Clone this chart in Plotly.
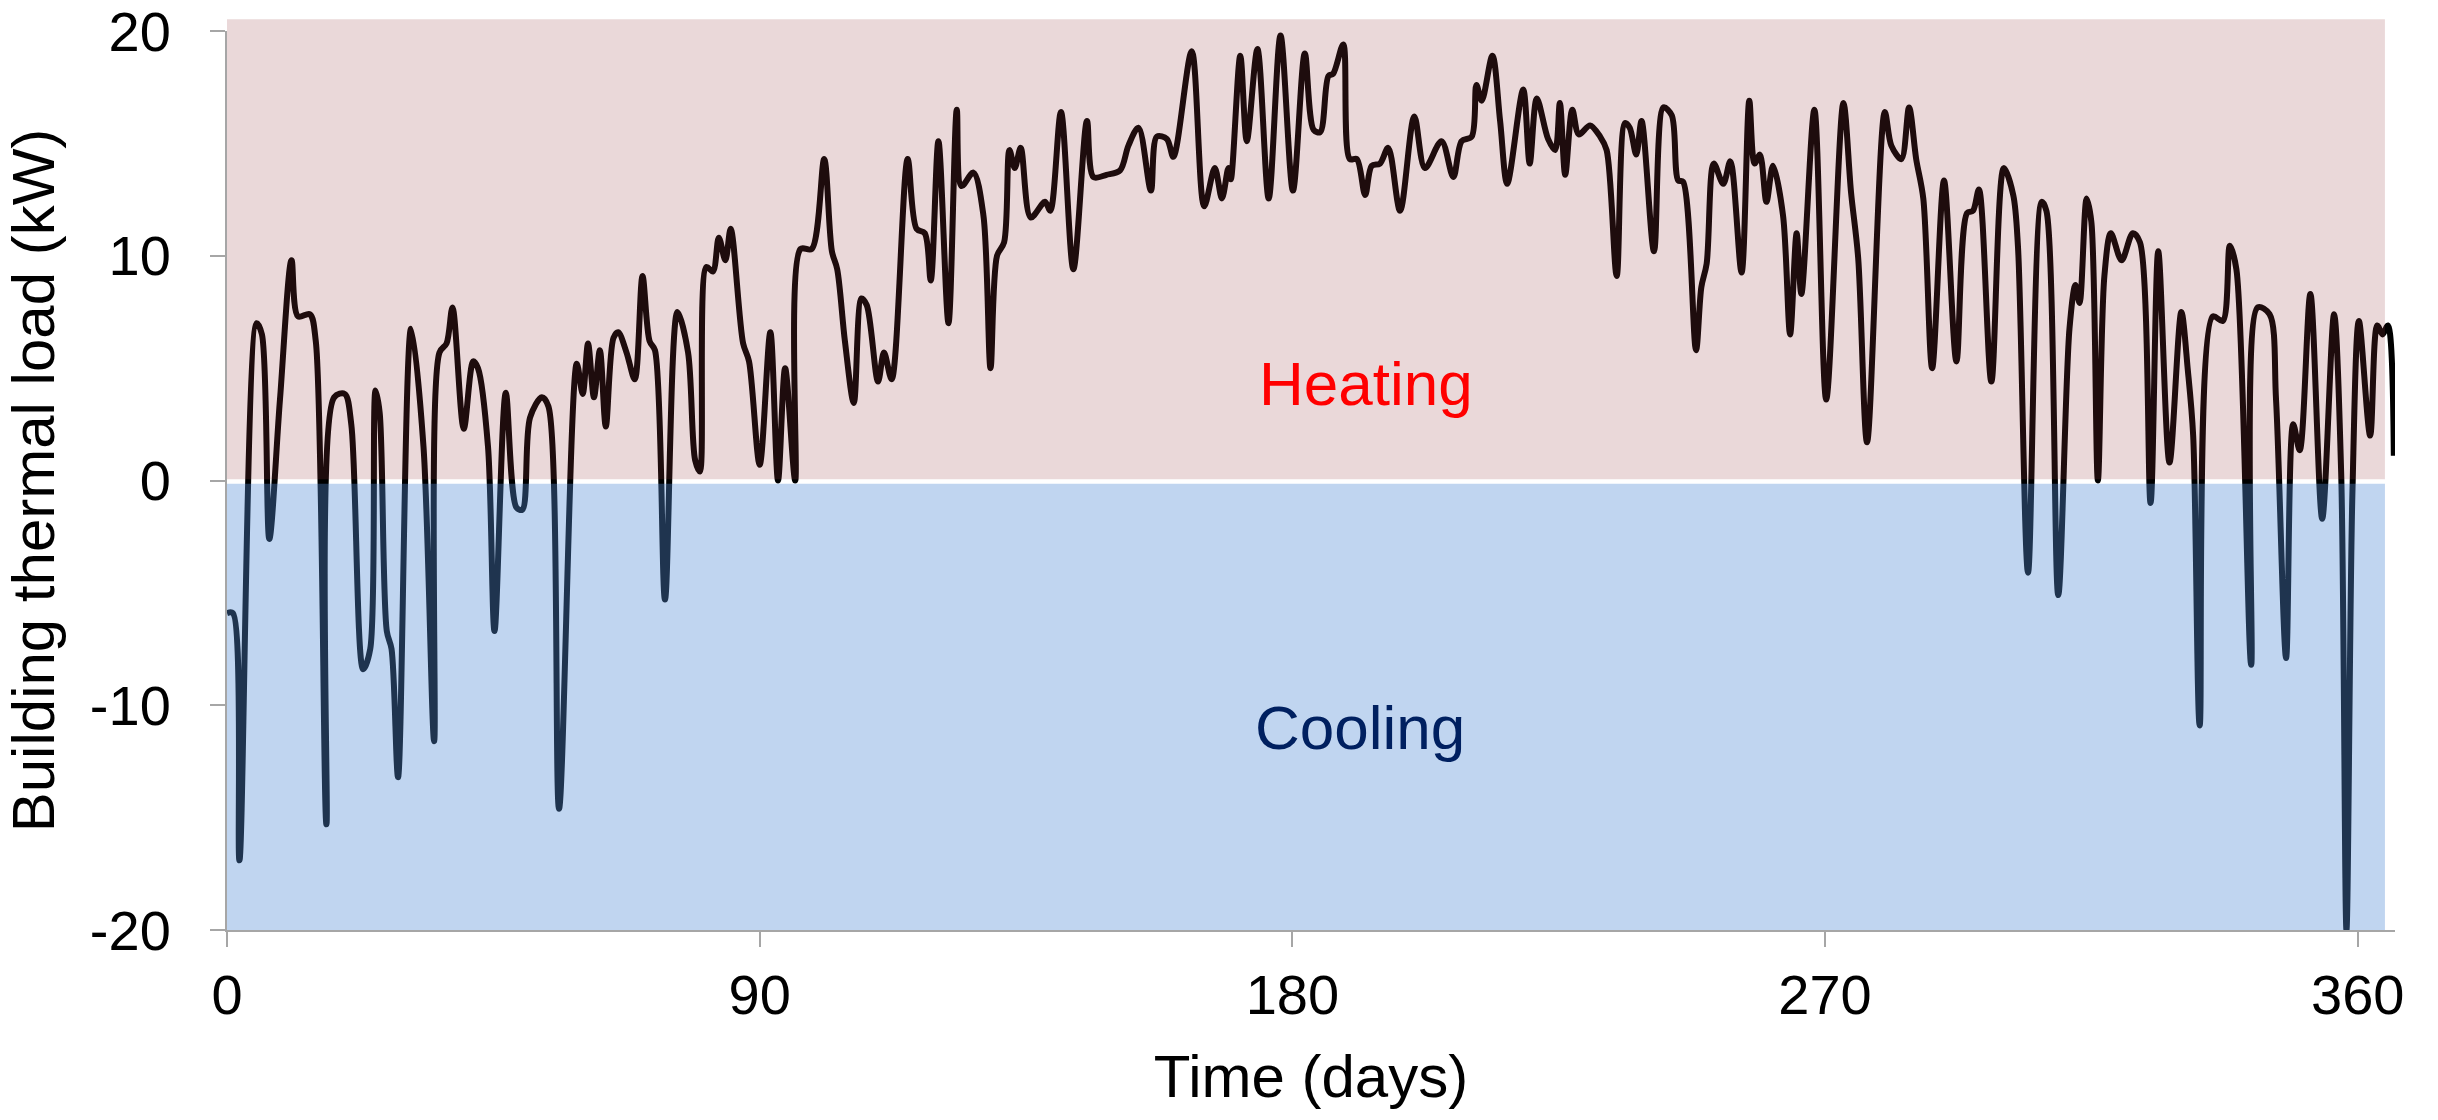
import plotly.graph_objects as go

# Data
days = [0, 1, 2.1, 5.0, 5.9, 7.15, 8.95, 10.9, 12.0, 14.0, 15.0, 16.8, 18.1, 19.9, 21.0,
        23.0, 24.2, 25.1, 25.8, 27.0, 27.8, 28.9, 31.1, 33.2, 35.0, 35.9, 37.1, 38.1, 40.0,
        41.6, 42.4, 44.1, 45.2, 47.1, 48.9, 49.9, 51.2, 53.2, 54.3, 56.1, 59.1, 60.1, 61.0,
        62.0, 63.0, 64.0, 65.3, 66.1, 67.5, 68.9, 70.2, 71.4, 72.3, 74.0, 76.1, 77.9, 79.1,
        79.9, 81.0, 82.1, 83.1, 84.2, 85.1, 87.2, 88.2, 90.0, 91.8, 93.1, 94.3, 96.0, 96.9,
        98.8, 100.9, 102.2, 103.1, 104.4, 105.9, 107.2, 108.1, 110.0, 111.0, 112.3, 115.0,
        116.5, 117.9, 118.9, 120.2, 121.9, 123.3, 124.1, 126.1, 127.8, 129.0, 130.1, 131.3,
        132.2, 133.1, 134.1, 135.8, 138.2, 139.1, 140.9, 143.0, 145.3, 146.4, 148.6, 150.9,
        152.3, 154.0, 156.1, 157.1, 158.8, 159.9, 163.0, 165.1, 166.9, 168.1, 169.2, 169.6,
        171.2, 172.3, 174.1, 176.0, 178.0, 180.1, 182.1, 183.6, 184.7, 186.1, 186.9, 188.6,
        189.7, 190.9, 192.3, 193.4, 194.8, 196.2, 198.2, 200.6, 202.4, 205.2, 207.2, 208.6,
        210.3, 211.1, 212.0, 213.8, 215.1, 216.3, 219.0, 220.1, 221.3, 223.2, 224.4, 225.2,
        226.1, 227.3, 228.4, 230.3, 232.0, 233.1, 234.8, 236.2, 237.0, 238.1, 239.0, 241.1,
        242.7, 244.1, 245.2, 246.0, 248.2, 249.1, 250.0, 251.2, 252.8, 254.0, 255.9, 257.2,
        258.1, 259.0, 260.1, 261.2, 262.9, 264.1, 265.2, 266.0, 268.2, 270.2, 273.1, 274.4,
        275.6, 277.1, 280.1, 281.2, 282.9, 284.2, 285.4, 286.6, 288.1, 290.1, 292.2, 294.0,
        295.0, 296.0, 298.1, 300.2, 301.8, 302.6, 304.3, 306.6, 307.4, 309.4, 311.3, 312.3,
        313.0, 314.2, 315.0, 316.1, 317.2, 318.3, 320.1, 322.0, 323.2, 325.0, 326.3, 328.2,
        330.2, 331.3, 332.2, 333.3, 335.5, 337.2, 338.4, 339.5, 342.0, 343.1, 345.1, 346.2,
        347.9, 349.1, 350.2, 352.0, 354.0, 356.0, 357.2, 358.1, 359.1, 360.2, 362.1, 363.3,
        364.2, 365.1, 366.1]

load_kw = [-5.9, -5.9, -16.9, 7.0, 6.5, -2.6, 3.6, 9.8, 7.3, 7.4, 6.2, -15.3, 3.7, 3.85, 2.5,
           -8.4, -7.5, 4.0, 3.0, -6.7, -7.5, -13.2, 6.75, 1.5, -11.6, 5.7, 6.1, 7.7, 2.3,
           5.3, 5.0, 1.5, -6.7, 3.9, -1.2, -1.3, 2.8, 3.7, 3.3, -14.6, 5.2, 3.85, 6.1,
           3.7, 5.8, 2.4, 6.35, 6.6, 5.7, 4.5, 9.1, 6.2, 5.8, -5.3, 7.5, 5.7, 0.9,
           0.4, 9.5, 9.3, 10.8, 9.8, 11.2, 6.1, 5.3, 0.7, 6.6, 0.0, 5.0, 0.0, 10.3,
           10.3, 14.3, 10.2, 9.4, 6.2, 3.45, 8.1, 7.8, 4.4, 5.7, 4.5, 14.3,
           11.2, 11.0, 8.9, 15.1, 7.0, 16.5, 13.1, 13.7, 11.8, 5.0, 10.0, 10.6,
           14.7, 13.9, 14.8, 11.7, 12.4, 12.0, 16.4, 9.4, 16.0, 13.5, 13.6, 13.8,
           14.9, 15.7, 12.9, 15.3, 15.2, 14.4, 19.1, 12.2, 13.9, 12.55, 13.9, 13.4,
           18.9, 15.1, 19.2, 12.55, 19.8, 12.9, 19.0, 15.6, 15.5, 18.0, 18.1, 19.4,
           14.3, 14.3, 12.7, 14.0, 14.1, 14.8, 12.0, 16.2, 13.9, 15.1, 13.5, 15.1,
           15.3, 17.6, 16.9, 18.9, 16.0, 13.2, 17.4, 14.1, 17.0, 15.2, 14.7, 16.8,
           13.6, 16.5, 15.4, 15.8, 15.3, 14.7, 9.1, 15.9, 15.7, 14.5, 16.0, 10.2,
           16.6, 16.25, 13.35, 13.3, 5.8, 8.6, 9.65, 14.1, 13.2, 14.2, 9.25, 16.9,
           14.1, 14.5, 12.4, 14.0, 11.8, 6.5, 11.0, 8.3, 16.5, 3.6, 16.8, 12.8,
           9.9, 1.7, 16.4, 14.9, 14.3, 16.6, 14.3, 12.55, 5.0, 13.35, 5.3, 11.9,
           12.0, 12.95, 4.4, 13.9, 12.7, 10.4, -4.1, 12.4, 12.0, -5.1, 6.75, 8.7,
           7.9, 12.55, 11.5, 0.0, 9.1, 11.0, 9.8, 11.0, 10.6, -1.0, 10.2, 0.8,
           7.5, 4.9, 2.0, -10.9, 7.3, 7.1, 10.45, 9.4, -8.2, 7.7, 7.4, 3.6,
           -7.9, 2.5, 1.35, 8.3, -1.7, 7.4, 0.4, -20.0, -0.6, 7.1, 2.0, 6.9,
           6.5, 6.9, 1.1]

x_ticks = [0, 90, 180, 270, 360]
y_ticks = [-20, -10, 0, 10, 20]

FONT = "Liberation Sans, Arial, sans-serif"

fig = go.Figure()
fig.add_trace(go.Scatter(
    x=days, y=load_kw, mode="lines",
    line=dict(color="black", width=6, shape="spline", smoothing=0.9),
    showlegend=False, hoverinfo="skip",
))

# shaded regions drawn above the line (semi-transparent) to tint it
fig.add_shape(type="rect", xref="x", yref="paper", x0=-0.8, x1=364.6, y0=0.5015, y1=1.013,
              fillcolor="rgb(150,60,65)", opacity=0.2, line_width=0, layer="above")
fig.add_shape(type="rect", xref="x", yref="y", x0=-0.8, x1=364.6, y0=-20, y1=-0.15,
              fillcolor="rgb(83,142,214)", opacity=0.37, line_width=0, layer="above")

fig.add_annotation(x=192.5, y=4.3, xref="x", yref="y", text="Heating", showarrow=False,
                   font=dict(family=FONT, size=62, color="#ff0000"))
fig.add_annotation(x=191.5, y=-11.0, xref="x", yref="y", text="Cooling", showarrow=False,
                   font=dict(family=FONT, size=62, color="#002060"))

fig.update_layout(
    width=2438, height=1120,
    margin=dict(l=227, r=43, t=31, b=190),
    paper_bgcolor="white", plot_bgcolor="white",
    font=dict(family=FONT, size=56, color="black"),
)
fig.update_xaxes(
    range=[0, 366.3], tickvals=x_ticks, ticktext=[str(v) for v in x_ticks],
    showgrid=False, zeroline=False, showline=True, linecolor="#a6a6a6", linewidth=2,
    ticks="outside", ticklen=15, tickcolor="#a6a6a6", tickwidth=2,
    tickfont=dict(family=FONT, size=56, color="black"), ticklabelstandoff=0,
    automargin=False, ticklabeloverflow="allow",
    title=dict(text="Time (days)", font=dict(family=FONT, size=60, color="black"), standoff=30),
)
fig.update_yaxes(
    range=[-20, 20], tickvals=y_ticks, ticktext=[str(v) for v in y_ticks],
    showgrid=False, zeroline=False, showline=True, linecolor="#a6a6a6", linewidth=2,
    ticks="outside", ticklen=15, tickcolor="#a6a6a6", tickwidth=2,
    tickfont=dict(family=FONT, size=56, color="black"), ticklabelstandoff=28,
    automargin=False, ticklabeloverflow="allow",
    title=dict(text="Building thermal load (kW)", font=dict(family=FONT, size=60, color="black"), standoff=30),
)

fig.write_html("out.html", config={"displayModeBar": False},
               post_script="document.body.style.margin='0';")
